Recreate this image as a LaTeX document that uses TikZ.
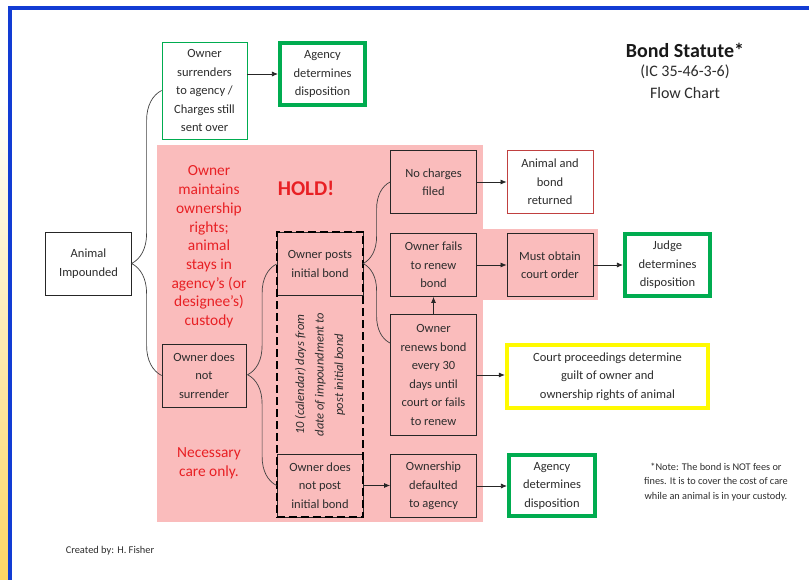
\documentclass[tikz,border=0pt]{standalone}
\usepackage{fontspec}
\setmainfont{Carlito}
\usepackage{tikz}
\usetikzlibrary{positioning,arrows.meta,decorations.pathreplacing,fit,calc}

\definecolor{holdpink}{RGB}{250,188,188}
\definecolor{holdred}{RGB}{232,32,36}
\definecolor{okgreen}{RGB}{0,172,80}
\definecolor{courtyellow}{RGB}{255,250,0}
\definecolor{frameblue}{RGB}{18,60,212}
\definecolor{stripyellow}{RGB}{255,214,100}
\definecolor{boxtext}{RGB}{45,45,45}
\definecolor{returnred}{RGB}{192,64,64}

\tikzset{
  stepbox/.style={draw=black!85, line width=0.8pt, align=center, text=boxtext, inner sep=2pt,
    minimum width=86, minimum height=63, font=\fontsize{12.5}{18.5}\selectfont},
  holdbox/.style={stepbox, fill=holdpink},
  greenbox/.style={stepbox, draw=okgreen, line width=3.6pt, fill=white,
    minimum width=85.5, minimum height=61.5},
  redtext/.style={align=center, text=holdred, font=\fontsize{15.4}{18.7}\selectfont},
  arr/.style={-{Latex[length=6pt,width=5pt]}, line width=0.7pt, black!85},
  bracket/.style={decorate, line width=0.7pt, black!75},
  window/.style={draw=black, line width=2pt, dash pattern=on 8pt off 4pt, inner sep=0pt}
}

\begin{document}
\begin{tikzpicture}[x=1pt,y=-1pt]
    \useasboundingbox (0,0) rectangle (809,580);
    %% frame
    \shade[top color=white, bottom color=stripyellow] (0,100) rectangle (8,580);
    \draw[frameblue, line width=4pt] (10,580) -- (10,8) -- (809,8);

    %% pink hold area
    \fill[holdpink] (157,145) rectangle (483,522);
    \fill[holdpink] (483,229) rectangle (598,300);

    %% title
    \node[font=\bfseries\fontsize{20}{22}\selectfont, text=black!90] (title) at (685,50) {Bond Statute*};
    \node[align=center, text=boxtext, font=\fontsize{16}{22}\selectfont, below=1pt of title] (subtitle)
    {(IC 35-46-3-6)\\Flow Chart};

    %% boxes
    \node[stepbox, fill=white] (animal) at (88.5,263.5) {Animal\\Impounded};
    \node[stepbox, draw=okgreen, fill=white, minimum width=85, minimum height=97] (surrender) at (204.5,90.5)
    {Owner\\surrenders\\to agency /\\Charges still\\sent over};
    \node[greenbox] (agency) at (322.5,74) {Agency\\determines\\disposition};
    \node[holdbox, minimum width=84] (nosurrender) at (204,375.5) {Owner does\\not\\surrender};

    \node[holdbox] (postbond) at (320,264) {Owner posts\\initial bond};
    \node[holdbox] (nopost) at (320,485.5) {Owner does\\not post\\initial bond};
    \node[window, fit=(postbond)(nopost)] (tendays) {};
    \node[rotate=90, align=center, text=boxtext, font=\itshape\fontsize{12.5}{19.5}\selectfont]
    (tendaytext) at ($(postbond.south)!0.5!(nopost.north)$)
    {10 (calendar) days from\\date of impoundment to\\post initial bond};

    \node[holdbox] (nocharges) at (433.5,182) {No charges\\filed};
    \node[holdbox] (fails) at (433.5,265) {Owner fails\\to renew\\bond};
    \node[holdbox, minimum height=121] (renews) at (433.5,375)
    {Owner\\renews bond\\every 30\\days until\\court or fails\\to renew};
    \node[holdbox] (defaulted) at (433.5,486) {Ownership\\defaulted\\to agency};

    \node[stepbox, draw=returnred, fill=white] (returned) at (550,182) {Animal and\\bond\\returned};
    \node[holdbox] (courtorder) at (550,265) {Must obtain\\court order};
    \node[greenbox] (judge) at (667.5,265) {Judge\\determines\\disposition};
    \node[stepbox, draw=courtyellow, line width=3.8pt, fill=white, minimum width=201.5, minimum height=62.5]
    (court) at (607.5,376.5) {Court proceedings determine\\guilt of owner and\\ownership rights of animal};
    \node[greenbox, minimum width=86.5] (agencytwo) at (552,485.5) {Agency\\determines\\disposition};

    %% red notes
    \node[redtext] (rights) at (209,247)
    {Owner\\maintains\\ownership\\rights;\\animal\\stays in\\agency’s (or\\designee’s)\\custody};
    \node[redtext] (care) at (209,463) {Necessary\\care only.};
    \node[text=holdred, font=\bfseries\fontsize{21}{24}\selectfont] (hold) at (306,188) {HOLD!};

    %% braces
    \draw[bracket, decoration={brace, amplitude=30pt, aspect=0.393}] (nosurrender.west) -- (surrender.west);
    \draw[bracket, decoration={brace, amplitude=29pt, aspect=0.5}] (nopost.west) -- (postbond.west);
    \draw[bracket, decoration={brace, amplitude=27pt, aspect=0.494}]
    ([yshift=-29pt]renews.north west) -- (nocharges.west);

    %% arrows
    \draw[arr] (surrender.east |- agency.west) -- (agency.west);
    \draw[arr] (nocharges.east) -- (returned.west);
    \draw[arr] (fails.east) -- (courtorder.west);
    \draw[arr] (courtorder.east) -- (judge.west);
    \draw[arr] (renews.east) -- (renews.east -| court.west);
    \draw[arr] (renews.north) -- (fails.south);
    \draw[arr] (nopost.east) -- (nopost.east -| defaulted.west);
    \draw[arr] (defaulted.east) -- (defaulted.east -| agencytwo.west);

    %% footnotes
    \node[align=center, text=boxtext, font=\fontsize{10.3}{14.2}\selectfont] (note) at (716,482)
    {*Note: The bond is NOT fees or\\fines. It is to cover the cost of care\\while an animal is in your custody.};
    \node[text=boxtext, font=\fontsize{10.4}{12}\selectfont] (creator) at (110,551) {Created by: H. Fisher};
\end{tikzpicture}
\end{document}
